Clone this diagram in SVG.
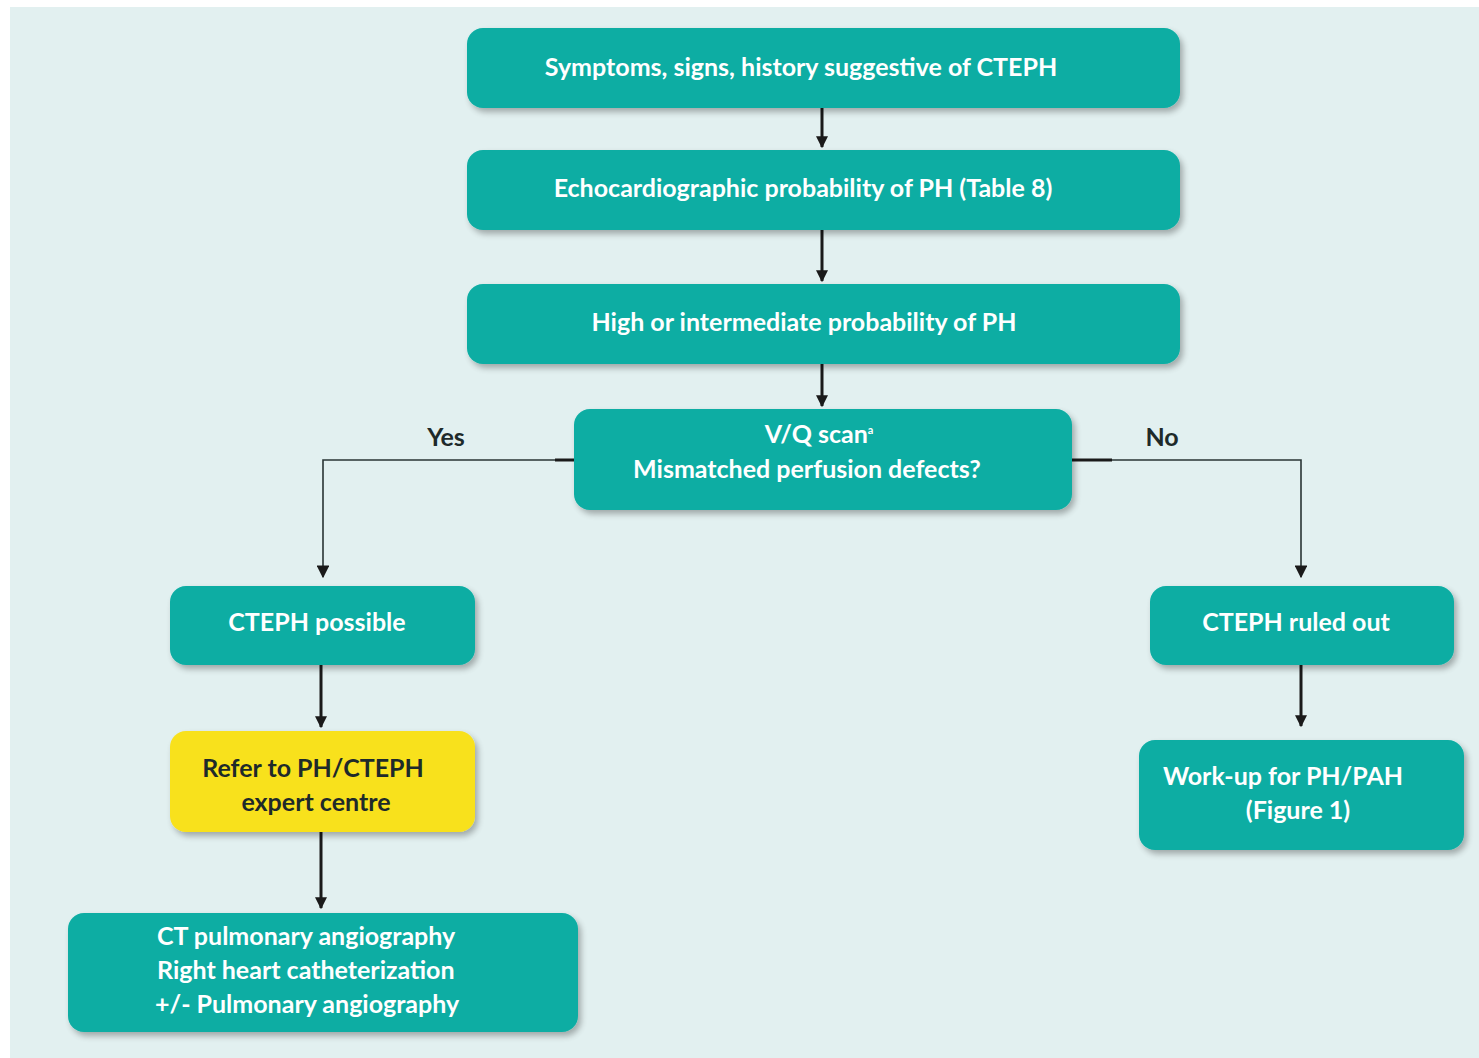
<svg xmlns="http://www.w3.org/2000/svg" width="1479" height="1058" viewBox="0 0 1479 1058">
<style>
.box{fill:#09ADA3;filter:url(#sh)}
.yel{fill:#F8E11F;filter:url(#sh)}
.t{font-family:Lato,"Open Sans","Liberation Sans",sans-serif;font-weight:bold;font-size:25px;fill:#FFFFFF;text-anchor:middle}
.l{text-anchor:start}
.d{fill:#1E2A2A}
.thick{stroke:#1A1A1A;stroke-width:3;fill:none}
.thin{stroke:#2A3535;stroke-width:1.6;fill:none}
</style>
<defs>
<filter id="sh" x="-10%" y="-20%" width="125%" height="150%">
<feGaussianBlur in="SourceAlpha" stdDeviation="3"/>
<feOffset dx="3" dy="4" result="b"/>
<feComponentTransfer><feFuncA type="linear" slope="0.3"/></feComponentTransfer>
<feMerge><feMergeNode/><feMergeNode in="SourceGraphic"/></feMerge>
</filter>
<marker id="ah" viewBox="0 0 10 10" refX="9" refY="5" markerWidth="4" markerHeight="4" orient="auto" markerUnits="strokeWidth">
<path d="M0,0 L10,5 L0,10 z" fill="#1A1A1A"/>
</marker>
<marker id="ah2" viewBox="0 0 10 10" refX="9" refY="5" markerWidth="8" markerHeight="8" orient="auto" markerUnits="strokeWidth">
<path d="M0,0 L10,5 L0,10 z" fill="#1A1A1A"/>
</marker>
</defs>
<rect x="0" y="0" width="1479" height="1058" fill="#FFFFFF"/>
<rect x="10" y="7" width="1469" height="1051" fill="#E2F0F0"/>

<g id="connectors">
<line class="thick" x1="822" y1="108" x2="822" y2="147" marker-end="url(#ah)"/>
<line class="thick" x1="822" y1="230" x2="822" y2="281" marker-end="url(#ah)"/>
<line class="thick" x1="822" y1="364" x2="822" y2="406" marker-end="url(#ah)"/>
<polyline class="thin" points="574,460 323,460 323,577" marker-end="url(#ah2)"/>
<line class="thick" x1="555" y1="460" x2="574" y2="460"/>
<polyline class="thin" points="1072,460 1301,460 1301,577" marker-end="url(#ah2)"/>
<line class="thick" x1="1072" y1="460" x2="1112" y2="460"/>
<line class="thick" x1="321" y1="665" x2="321" y2="727" marker-end="url(#ah)"/>
<line class="thick" x1="321" y1="832" x2="321" y2="908" marker-end="url(#ah)"/>
<line class="thick" x1="1301" y1="665" x2="1301" y2="726" marker-end="url(#ah)"/>
<text class="t d" x="446" y="446">Yes</text>
<text class="t d" x="1162" y="446">No</text>
</g>

<g id="n1"><rect class="box" x="467" y="28" width="713" height="80" rx="16"/>
<text class="t" x="801" y="76">Symptoms, signs, history suggestive of CTEPH</text></g>
<g id="n2"><rect class="box" x="467" y="150" width="713" height="80" rx="16"/>
<text class="t" x="803" y="197">Echocardiographic probability of PH (Table 8)</text></g>
<g id="n3"><rect class="box" x="467" y="284" width="713" height="80" rx="16"/>
<text class="t" x="804" y="331">High or intermediate probability of PH</text></g>
<g id="n4"><rect class="box" x="574" y="409" width="498" height="101" rx="16"/>
<text class="t" x="819" y="443">V/Q scan<tspan font-size="11" dy="-9">a</tspan></text>
<text class="t" x="807" y="478">Mismatched perfusion defects?</text></g>
<g id="n5"><rect class="box" x="170" y="586" width="305" height="79" rx="16"/>
<text class="t" x="317" y="631">CTEPH possible</text></g>
<g id="n6"><rect class="yel" x="170" y="731" width="305" height="101" rx="16"/>
<text class="t d" x="313" y="777">Refer to PH/CTEPH</text>
<text class="t d" x="316" y="811">expert centre</text></g>
<g id="n7"><rect class="box" x="68" y="913" width="510" height="119" rx="16"/>
<text class="t l" x="157" y="945">CT pulmonary angiography</text>
<text class="t l" x="157" y="979">Right heart catheterization</text>
<text class="t l" x="155" y="1013">+/- Pulmonary angiography</text></g>
<g id="n8"><rect class="box" x="1150" y="586" width="304" height="79" rx="16"/>
<text class="t" x="1296" y="631">CTEPH ruled out</text></g>
<g id="n9"><rect class="box" x="1139" y="740" width="325" height="110" rx="16"/>
<text class="t l" x="1163" y="785">Work-up for PH/PAH</text>
<text class="t" x="1298" y="819">(Figure 1)</text></g>
</svg>
